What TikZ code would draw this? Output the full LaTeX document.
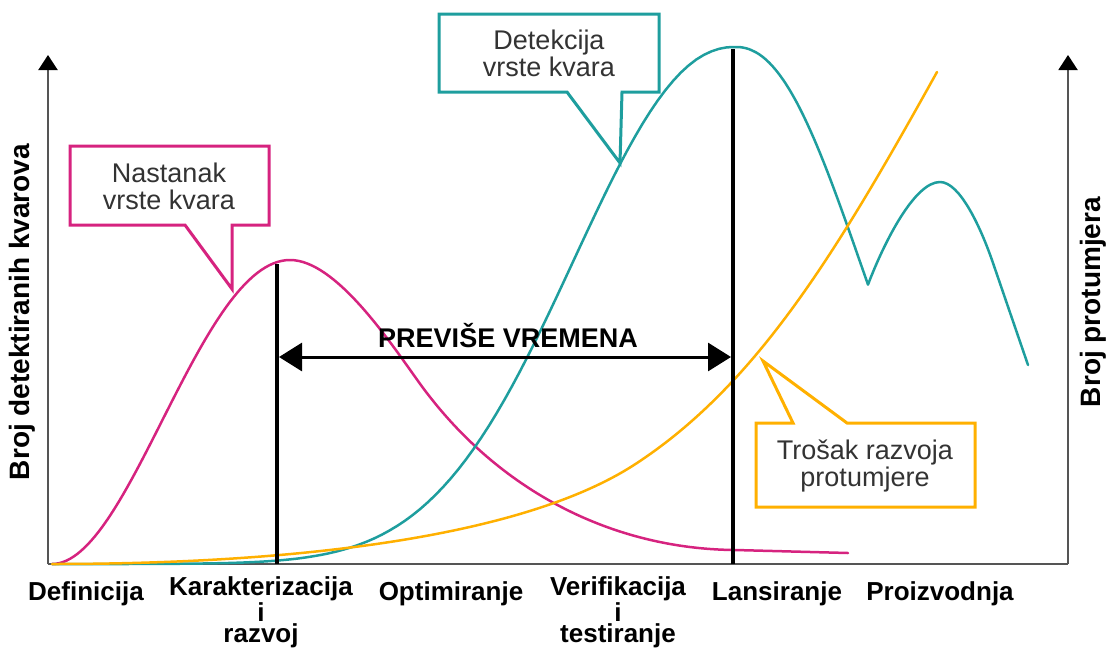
\documentclass[tikz,border=0pt]{standalone}
\usepackage{fontspec}
\setmainfont{Liberation Sans}
\usetikzlibrary{arrows.meta}
\definecolor{cpink}{HTML}{D6237F}
\definecolor{cteal}{HTML}{1E9E9E}
\definecolor{corange}{HTML}{FFB000}
\definecolor{ctext}{HTML}{333333}
\definecolor{caxis}{HTML}{555555}
\begin{document}
\begin{tikzpicture}[x=1pt,y=-1pt,
  curve/.style={line width=2.5pt, line join=round, line cap=round},
  bubble/.style={draw=#1, fill=white, line width=3pt, line join=miter},
  bubbletext/.style={text=ctext, font=\fontsize{27}{27}\selectfont, align=center, inner sep=0pt},
  phase/.style={font=\fontsize{26}{21}\selectfont\bfseries, align=center, anchor=base, inner sep=0pt},
  axislabel/.style={font=\fontsize{28}{28}\selectfont\bfseries, rotate=90, inner sep=0pt},
  axisline/.style={line width=2pt, draw=caxis, -{Triangle[length=15pt,width=19pt,color=black]}},
  marker/.style={line width=4pt, line cap=butt},
  span/.style={line width=3pt, {Triangle[length=23pt,width=28pt]}-{Triangle[length=23pt,width=28pt]}},
]
\useasboundingbox (0,0) rectangle (1110,653);
% axes
\coordinate (o) at (48,564);
\coordinate (ytop) at (48,55);
\coordinate (xend) at (1068,564);
\coordinate (y2top) at (1068,55);
\draw[line width=2pt, caxis] (o) -- (xend);
\draw[axisline] (o) -- (ytop);
\draw[axisline] (xend) -- (y2top);
% pink curve: occurrence of failure modes
\draw[curve, cpink] (52,564) .. controls (130,564) and (200,260) .. (290,260)
  .. controls (335,260) and (388,339) .. (418,381)
  .. controls (498,493) and (615,549) .. (735,550) -- (848,553);
% teal curve: detection of failure modes
\draw[curve, cteal] plot[domain=52:734.5, samples=90] (\x, {564-517*exp(-0.5*pow((735-\x)/156.7,2.15))})
  -- (735,47)
  -- plot[domain=735.5:868, samples=40] (\x, {564-517*exp(-0.5*pow((\x-735)/121,2.2))})
  .. controls (885,240) and (915,182) .. (940,182)
  .. controls (960,182) and (981,228) .. (993,263) -- (1028,365);
% orange curve: countermeasure cost
\draw[curve, corange] (52,564) .. controls (302,564) and (527,536) .. (637,463)
  .. controls (757,384) and (837,252) .. (937,72);
% markers
\coordinate (m1top) at (277,264);
\coordinate (m1bot) at (277,564);
\coordinate (m2top) at (733,49);
\coordinate (m2bot) at (733,564);
\draw[marker] (m1top) -- (m1bot);
\draw[marker] (m2top) -- (m2bot);
\coordinate (sl) at (279,357);
\coordinate (sr) at (731,357);
\draw[span] (sl) -- (sr);
\node[font=\fontsize{27}{27}\selectfont\bfseries, anchor=base, inner sep=0pt] (prev) at (508,347) {PREVIŠE VREMENA};
% bubbles
\draw[bubble=cpink] (70,146) -- (269,146) -- (269,225) -- (232,225) -- (232,289) -- (185,225) -- (70,225) -- cycle;
\node[bubbletext] (b1) at (169,186) {Nastanak\\vrste kvara};
\draw[bubble=cteal] (439,14) -- (659,14) -- (659,92) -- (622,92) -- (620,163) -- (567,92) -- (439,92) -- cycle;
\node[bubbletext] (b2) at (549,53) {Detekcija\\vrste kvara};
\draw[bubble=corange] (756,423) -- (793,423) -- (763,361) -- (847,423) -- (975,423) -- (975,507) -- (756,507) -- cycle;
\node[bubbletext] (b3) at (865,466) {Trošak razvoja\\protumjere};
% axis labels
\node[axislabel] (ly) at (22,312) {Broj detektiranih kvarova};
\node[axislabel] (ry) at (1093,302) {Broj protumjera};
% phases
\node[phase] (p1) at (86,600) {Definicija};
\node[phase] (p2) at (261,642) {Karakterizacija\\i\\razvoj};
\node[phase] (p3) at (451,600) {Optimiranje};
\node[phase] (p4) at (618,642) {Verifikacija\\i\\testiranje};
\node[phase] (p5) at (777,600) {Lansiranje};
\node[phase] (p6) at (940,600) {Proizvodnja};
\end{tikzpicture}
\end{document}
